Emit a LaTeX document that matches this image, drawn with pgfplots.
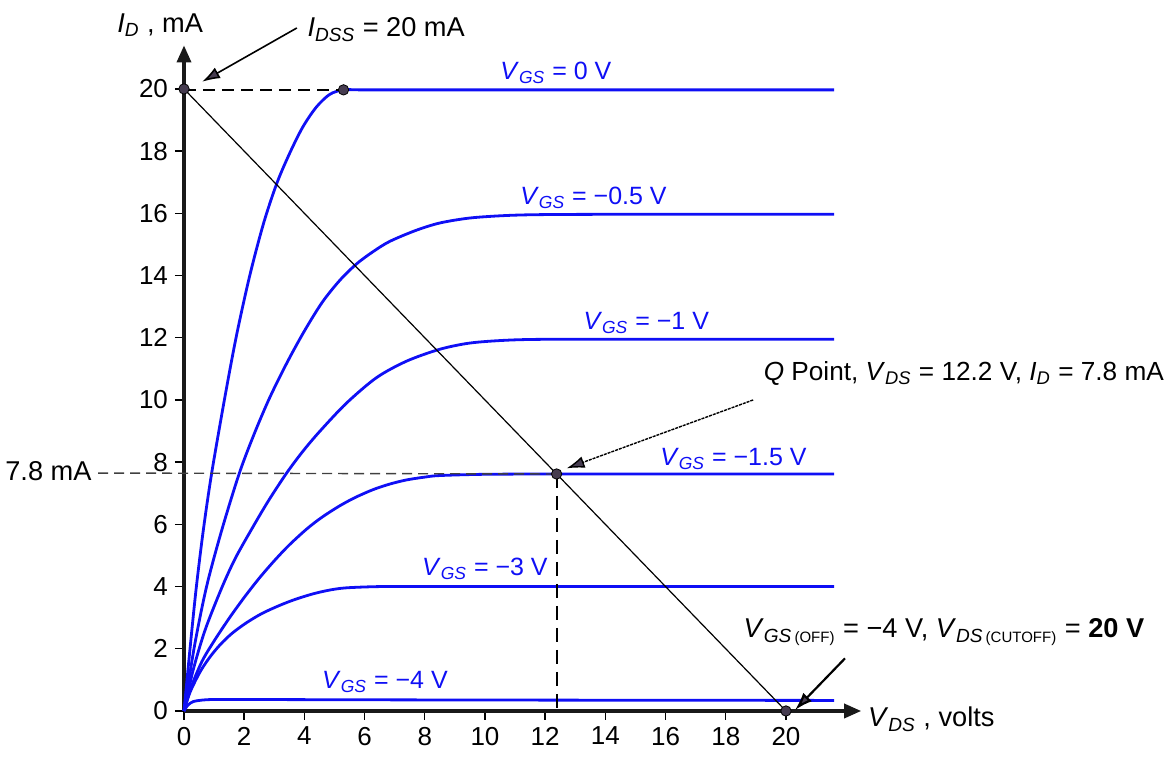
\documentclass[border=0pt]{standalone}
\usepackage{pgfplots}
\pgfplotsset{compat=1.18}
\usetikzlibrary{arrows.meta}
\usepackage{fontspec}
\setmainfont{Liberation Sans}
\newcommand\lbl{\fontsize{12.5}{15}\selectfont}
\newcommand\blbl{\fontsize{13.6}{16}\selectfont}
\newcommand\qlbl{\fontsize{13.1}{16}\selectfont}
\newcommand\tlbl{\fontsize{13}{15}\selectfont}
\newcommand\V[1]{\textit{V}\textsubscript{\textit{#1}}}
\newcommand\I[1]{\textit{I}\textsubscript{\textit{#1}}}
\newcommand\Vx[2]{\textit{V}\textsubscript{\textit{#1}\,{\fontsize{7.5}{8}\selectfont(#2)}}}
\definecolor{cblue}{RGB}{15,15,245}
\definecolor{dotc}{RGB}{70,60,80}
\begin{document}
\begin{tikzpicture}[font=\lbl]
\useasboundingbox (-92pt,-23.5pt) rectangle (493.5pt,355.5pt);
\begin{axis}[
  at={(0pt,0pt)}, anchor=south west,
  scale only axis, width=338.6pt, height=332.8pt,
  xmin=0, xmax=22.5, ymin=0, ymax=21.4,
  axis x line*=bottom, axis y line*=left,
  axis line style={line width=1.7pt, black!90, -{Triangle[length=8.5pt,width=7pt]}},
  xtick={0,2,...,20}, ytick={0,2,...,20},
  tick align=outside, major tick length=4.5pt,
  tick style={line width=0.7pt, black},
  tick label style={font=\tlbl},
  /pgf/number format/assume math mode=true,
  clip=false,
]
% V_GS = 0
\addplot[cblue, line width=1.4pt, smooth, tension=0.5] coordinates {
(0,0)(0.2,2.0)(0.4,3.9)(0.64,5.8)(0.92,7.65)(1.36,10.1)(1.75,12.1)(2.19,14.02)(2.65,15.7)(3.09,16.98)(3.52,17.95)(3.95,18.78)(4.4,19.42)(4.85,19.83)(5.3,19.97)(5.8,19.97)(6.5,19.97)(8,19.97)(11,19.97)(15,19.97)(21.6,19.97)};
% V_GS = -0.5
\addplot[cblue, line width=1.4pt, smooth, tension=0.5] coordinates {
(0,0)(0.35,2.1)(0.75,4.0)(1.25,5.8)(1.84,7.65)(2.35,8.95)(2.86,10.1)(3.45,11.25)(4.02,12.25)(4.6,13.15)(5.18,13.85)(5.74,14.38)(6.3,14.78)(6.84,15.1)(7.7,15.45)(8.5,15.69)(9.5,15.85)(10.7,15.93)(12,15.96)(15,15.97)(21.6,15.97)};
% V_GS = -1
\addplot[cblue, line width=1.4pt, smooth, tension=0.5] coordinates {
(0,0)(0.3,1.3)(0.7,2.6)(1.25,3.95)(1.7,4.9)(2.25,5.85)(2.8,6.75)(3.41,7.65)(3.95,8.35)(4.52,9.0)(5.4,9.9)(6.4,10.72)(7.4,11.25)(8.5,11.63)(9.5,11.83)(10.7,11.92)(12,11.95)(15,11.95)(21.6,11.95)};
% V_GS = -1.5
\addplot[cblue, line width=1.4pt, smooth, tension=0.5] coordinates {
(0,0)(0.25,0.8)(0.6,1.6)(1,2.25)(1.5,2.98)(2,3.65)(2.5,4.27)(3,4.83)(3.5,5.34)(4.1,5.87)(4.6,6.24)(5.18,6.6)(5.7,6.87)(6.29,7.12)(6.85,7.3)(7.4,7.43)(8,7.52)(8.5,7.57)(10,7.61)(12.38,7.62)(15,7.62)(21.6,7.62)};
% V_GS = -3
\addplot[cblue, line width=1.4pt, smooth, tension=0.5] coordinates {
(0,0)(0.2,0.6)(0.53,1.25)(0.85,1.72)(1.2,2.13)(1.6,2.5)(2.08,2.84)(2.6,3.14)(3.19,3.4)(3.7,3.59)(4.3,3.77)(4.85,3.89)(5.4,3.96)(6.5,4.0)(8,4.0)(12,4.0)(21.6,4.0)};
% V_GS = -4
\addplot[cblue, line width=1.4pt, smooth, tension=0.5] coordinates {
(0,0)(0.12,0.18)(0.3,0.3)(0.6,0.35)(1,0.37)(2,0.37)(6,0.36)(12,0.35)(21.6,0.34)};
% load line
\addplot[black, line width=0.6pt] coordinates {(0,20)(20,0)};
% dashed guides
\addplot[black, line width=1pt, dash pattern=on 6pt off 3.5pt] coordinates {(0,19.98)(5.3,19.98)};
\addplot[black!75, line width=0.7pt, dash pattern=on 5pt off 3pt] coordinates {(-2.85,7.65)(12.38,7.62)};
\addplot[black, line width=1pt, dash pattern=on 7pt off 4pt] coordinates {(12.38,7.62)(12.38,0)};
% points
\addplot[only marks, mark=*, mark size=2.6pt, mark options={fill=dotc, draw=black, line width=0.4pt}] coordinates {(0,20)(5.3,19.97)(12.38,7.62)(20,0)};
% annotation arrows
\draw[line width=0.8pt, -{Latex[length=9pt,width=6pt,fill=dotc]}] (axis cs:3.75,21.96) -- (axis cs:0.6,20.23);
\draw[line width=0.7pt, dash pattern=on 1.5pt off 0.5pt, -{Latex[length=9pt,width=6pt,fill=dotc]}] (axis cs:18.91,10.0) -- (axis cs:12.71,7.8);
\draw[line width=1.1pt, -{Latex[length=9pt,width=6pt,fill=dotc]}] (axis cs:21.96,1.69) -- (axis cs:20.3,0.03);
% labels
\node[anchor=base west, inner sep=0, font=\blbl] at (axis cs:-2.23,21.83) {\I{D} , mA};
\node[anchor=base west, inner sep=0, font=\blbl] at (axis cs:4.09,21.67) {\I{DSS} = 20 mA};
\node[anchor=base west, inner sep=0, text=cblue] at (axis cs:10.5,20.3) {\V{GS} = 0 V};
\node[anchor=base west, inner sep=0, text=cblue] at (axis cs:11.16,16.27) {\V{GS} = −0.5 V};
\node[anchor=base west, inner sep=0, text=cblue] at (axis cs:13.26,12.25) {\V{GS} = −1 V};
\node[anchor=base west, inner sep=0, text=cblue] at (axis cs:15.81,7.88) {\V{GS} = −1.5 V};
\node[anchor=base west, inner sep=0, text=cblue] at (axis cs:7.9,4.37) {\V{GS} = −3 V};
\node[anchor=base west, inner sep=0, text=cblue] at (axis cs:4.58,0.72) {\V{GS} = −4 V};
\node[anchor=base west, inner sep=0, font=\qlbl] at (axis cs:19.25,10.64) {\textit{Q} Point, \V{DS} = 12.2 V, \I{D} = 7.8 mA};
\node[anchor=base west, inner sep=0, font=\blbl] at (axis cs:18.58,2.35) {\Vx{GS}{OFF} = −4 V, \Vx{DS}{CUTOFF} = \textbf{20 V}};
\node[anchor=base west, inner sep=0, font=\blbl] at (axis cs:22.72,-0.51) {\V{DS} , volts};
\node[anchor=west, inner sep=0, font=\blbl] at (axis cs:-5.95,7.7) {7.8 mA};
\end{axis}
\end{tikzpicture}
\end{document}
